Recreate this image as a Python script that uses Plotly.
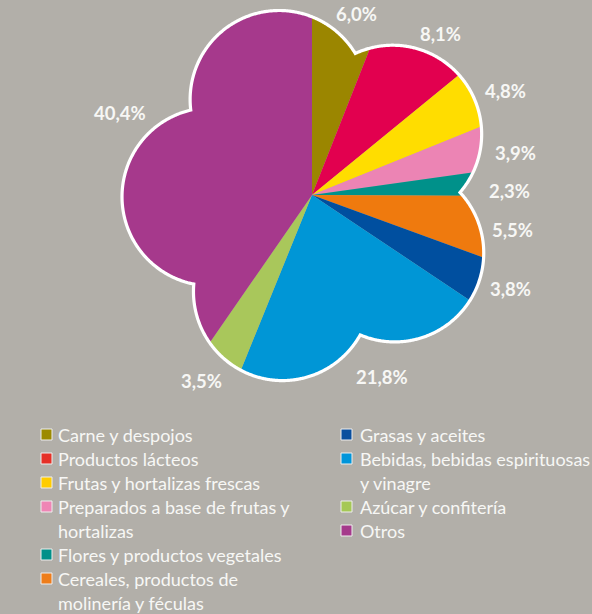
import numpy as np
import plotly.graph_objects as go

W, H = 592, 614
BG = "#B2AFA9"
TXT = "#F7F7F5"

# ---------------- data ----------------
categories = [
    "Carne y despojos",
    "Productos lácteos",
    "Frutas y hortalizas frescas",
    "Preparados a base de frutas y hortalizas",
    "Flores y productos vegetales",
    "Cereales, productos de molinería y féculas",
    "Grasas y aceites",
    "Bebidas, bebidas espirituosas y vinagre",
    "Azúcar y confitería",
    "Otros",
]
shares = [6.0, 8.1, 4.8, 3.9, 2.3, 5.5, 3.8, 21.8, 3.5, 40.4]

slice_colors = ["#9B8600", "#E2004F", "#FFDD00", "#EC84B4", "#00918A",
                "#EF7A0E", "#004F9F", "#0096D6", "#A9C75B", "#A6398C"]
legend_colors = ["#9C8A00", "#E53027", "#FFCC00", "#EF85B5", "#009089",
                 "#EE7D1A", "#0A4F9E", "#0095DA", "#A5C856", "#A5398B"]

# wrapped legend text (line breaks as in the original)
legend_lines = [
    ["Carne y despojos"],
    ["Productos lácteos"],
    ["Frutas y hortalizas frescas"],
    ["Preparados a base de frutas y", "hortalizas"],
    ["Flores y productos vegetales"],
    ["Cereales, productos de", "molinería y féculas"],
    ["Grasas y aceites"],
    ["Bebidas, bebidas espirituosas", "y vinagre"],
    ["Azúcar y confitería"],
    ["Otros"],
]

# ---------------- layout constants ----------------
cx, cy, R = 312, 195, 194          # pie centre / radius (px)
n_lobes, lobe_dist, lobe_r, first_peak = 5, 101, 89, 53
label_pos = [(356, 14), (440, 34), (505, 91), (515, 153), (509, 191),
             (512, 230), (510, 289), (382, 377), (201, 381), (120, 113)]
legend_cols = [(41, 56), (341, 358)]   # (square x, text x) px
legend_top, legend_step, legend_split = 435, 24, 6


def px(x):
    return x / W


def py(y):
    return 1 - y / H


fig = go.Figure()
fig.add_trace(go.Pie(
    labels=categories, values=shares, sort=False, direction="clockwise",
    rotation=0, textinfo="none", hoverinfo="label+percent", showlegend=False,
    marker=dict(colors=slice_colors, line=dict(width=0)),
    domain=dict(x=[px(cx - R), px(cx + R)], y=[py(cy + R), py(cy - R)]),
))

# flower outline
pts = []
for th in np.linspace(0, 2 * np.pi, 1441):
    ux, uy = np.sin(th), -np.cos(th)
    best = 0.0
    for k in range(n_lobes):
        phi = np.radians(first_peak + 360 / n_lobes * k)
        ccx, ccy = lobe_dist * np.sin(phi), -lobe_dist * np.cos(phi)
        b = ux * ccx + uy * ccy
        disc = lobe_r ** 2 - (lobe_dist ** 2 - b ** 2)
        if disc >= 0:
            best = max(best, b + np.sqrt(disc))
    pts.append((cx + best * ux, cy + best * uy))

flower = "M " + " L ".join(f"{px(x):.5f},{py(y):.5f}" for x, y in pts) + " Z"
x0, x1, y0, y1 = cx - R - 12, cx + R + 12, cy - R - 12, cy + R + 12
box = (f"M {px(x0)},{py(y0)} L {px(x1)},{py(y0)} L {px(x1)},{py(y1)} "
       f"L {px(x0)},{py(y1)} Z ")

shapes = [
    dict(type="path", xref="paper", yref="paper", path=box + flower,
         fillcolor=BG, fillrule="evenodd", line=dict(width=0), layer="above"),
    dict(type="path", xref="paper", yref="paper", path=flower,
         fillcolor="rgba(0,0,0,0)", line=dict(color="white", width=3.2),
         layer="above"),
]

annotations = []
for v, (lx, ly) in zip(shares, label_pos):
    annotations.append(dict(
        x=px(lx), y=py(ly), xref="paper", yref="paper", showarrow=False,
        xanchor="center", yanchor="middle",
        text=f"{v:.1f}".replace(".", ",") + "%",
        font=dict(family="Lato", size=18.5, color=TXT, weight="bold")))

# manual two-column legend
row = 0
for i, (lines, col) in enumerate(zip(legend_lines, legend_colors)):
    if i == legend_split:
        row = 0
    sx, tx = legend_cols[0] if i < legend_split else legend_cols[1]
    yc = legend_top + row * legend_step
    shapes.append(dict(type="rect", xref="paper", yref="paper",
                       x0=px(sx), x1=px(sx + 11), y0=py(yc - 6), y1=py(yc + 5),
                       fillcolor=col, line=dict(color="#EEEEEE", width=1),
                       layer="above"))
    for j, ln in enumerate(lines):
        annotations.append(dict(
            x=px(tx), y=py(yc + j * legend_step), xref="paper", yref="paper",
            showarrow=False, xanchor="left", yanchor="middle", text=ln,
            font=dict(family="Lato", size=18, color=TXT)))
    row += len(lines)

fig.update_layout(
    width=W, height=H, paper_bgcolor=BG, plot_bgcolor=BG,
    margin=dict(l=0, r=0, t=0, b=0), showlegend=False,
    shapes=shapes, annotations=annotations,
)
fig.write_html(
    "out.html",
    config={"displayModeBar": False},
    post_script="document.body.style.margin='0';"
                "document.body.style.overflow='hidden';",
)
